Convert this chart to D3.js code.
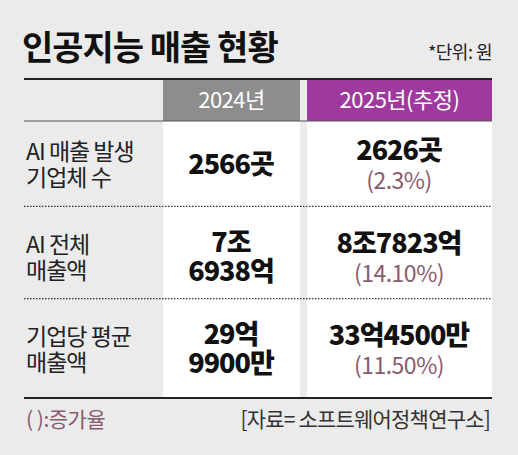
<!DOCTYPE html><html><head><meta charset="utf-8"><script src="https://cdn.jsdelivr.net/npm/d3@7"></script>
<style>body{margin:0;background:#ebebeb}</style></head><body><script>
const title="인공지능 매출 현황", unit="*단위: 원";
const years=["2024년","2025년(추정)"];
const rowLabels=[["AI 매출 발생","기업체 수"],["AI 전체","매출액"],["기업당 평균","매출액"]];
const v2024=[["2566곳"],["7조","6938억"],["29억","9900만"]];
const v2025=["2626곳","8조7823억","33억4500만"];
const growth=["(2.3%)","(14.10%)","(11.50%)"];
const note="( ):증가율", source="[자료= 소프트웨어정책연구소]";
const W=518,H=455,F="'Noto Sans CJK KR','Noto Sans',sans-serif";
const svg=d3.select("body").append("svg").attr("width",W).attr("height",H).style("font-family",F);
svg.append("rect").attr("width",W).attr("height",H).attr("fill","#ebebeb");
svg.append("text").attr("x",22).attr("y",60).attr("font-size",34).attr("font-weight",700).attr("letter-spacing",-1).attr("fill","#111").text(title);
svg.append("text").attr("x",492).attr("y",59).attr("text-anchor","end").attr("font-size",18).attr("letter-spacing",-0.5).attr("fill","#222").text(unit);
const cols=[{x:163,w:137,c:"#8d8d8d"},{x:307,w:185,c:"#a0399d"}];
const y=d3.scaleBand().domain(d3.range(3)).range([121,398]);
cols.forEach((c,i)=>{
 svg.append("rect").attr("x",c.x).attr("y",79).attr("width",c.w).attr("height",42).attr("fill",c.c);
 svg.append("text").attr("x",c.x+c.w/2).attr("y",108).attr("text-anchor","middle").attr("font-size",22).attr("letter-spacing",-0.5).attr("fill","#fff").text(years[i]);
 svg.append("rect").attr("x",c.x).attr("y",121).attr("width",c.w).attr("height",277).attr("fill","#fff");
});
svg.append("line").attr("x1",24).attr("x2",492).attr("y1",79).attr("y2",79).attr("stroke","#222").attr("stroke-width",2);
svg.append("line").attr("x1",24).attr("x2",492).attr("y1",121).attr("y2",121).attr("stroke","#555").attr("stroke-width",1);
svg.append("line").attr("x1",24).attr("x2",492).attr("y1",398).attr("y2",398).attr("stroke","#222").attr("stroke-width",2);
[1,2].forEach(i=>svg.append("line").attr("x1",24).attr("x2",492).attr("y1",y(i)-7).attr("y2",y(i)-7).attr("stroke","#333").attr("stroke-width",1.2).attr("stroke-dasharray","1.5,1.5"));
rowLabels.forEach((l,i)=>{
 const cy=y(i)+y.bandwidth()/2-3;
 l.forEach((t,j)=>svg.append("text").attr("x",26).attr("y",cy-4+j*26).attr("font-size",23).attr("letter-spacing",-1).attr("fill","#222").text(t));
 const a=v2024[i];
 a.forEach((t,j)=>svg.append("text").attr("x",231).attr("y",cy+10+(j-(a.length-1)/2)*29).attr("text-anchor","middle").attr("font-size",27).attr("font-weight",900).attr("letter-spacing",-1).attr("fill","#111").text(t));
 svg.append("text").attr("x",399).attr("y",cy-4).attr("text-anchor","middle").attr("font-size",27).attr("font-weight",900).attr("letter-spacing",-1).attr("fill","#111").text(v2025[i]);
 svg.append("text").attr("x",399).attr("y",cy+25).attr("text-anchor","middle").attr("font-size",23).attr("letter-spacing",-0.5).attr("fill","#8a5a6e").text(growth[i]);
});
svg.append("text").attr("x",26).attr("y",427).attr("font-size",21).attr("letter-spacing",-0.5).attr("fill","#8a5a6e").text(note);
svg.append("text").attr("x",490).attr("y",427).attr("text-anchor","end").attr("font-size",21).attr("letter-spacing",-0.8).attr("fill","#333").text(source);
</script></body></html>
